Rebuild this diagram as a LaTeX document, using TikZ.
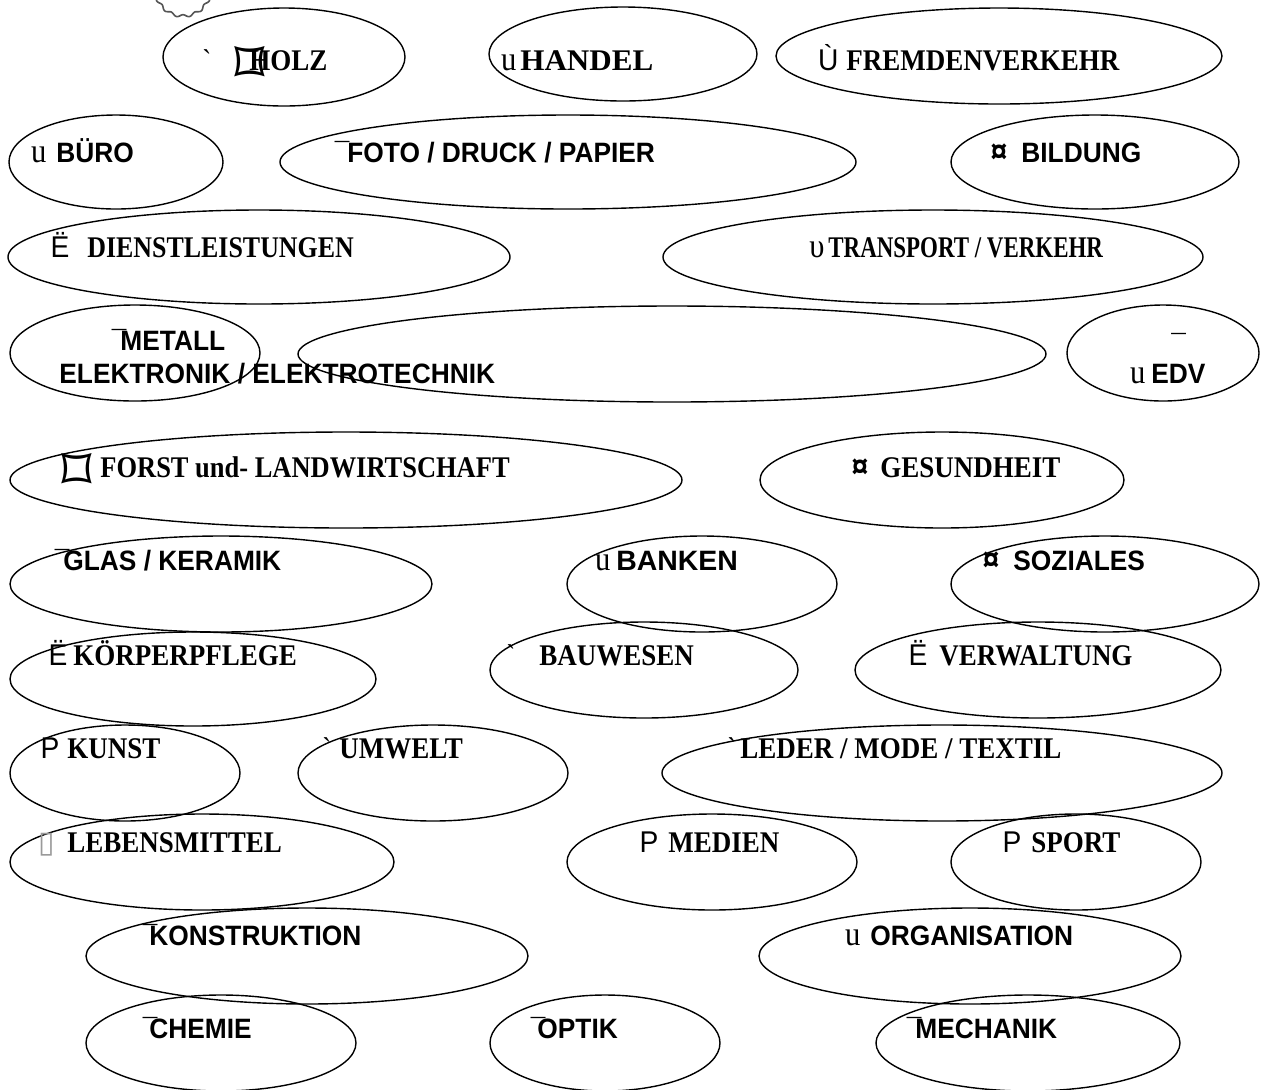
\documentclass[tikz,border=0pt]{standalone}
\usepackage{fontspec}
\usepackage{graphicx}
\usepackage{tikz}
\usetikzlibrary{shapes.geometric}
\newfontfamily\serifface[FakeStretch=0.9,Ligatures=TeXOff]{Liberation Serif}
\newfontfamily\sansface[FakeStretch=0.94]{Liberation Sans}
\newfontfamily\symface{DejaVu Sans}
\definecolor{gearcol}{HTML}{555555}
\definecolor{boxcol}{HTML}{9A9A9A}
\newcommand{\sgU}{{\mdseries\serifface\fontsize{17}{18}\selectfont u}}
\newcommand{\sgUps}{{\mdseries\serifface\fontsize{17}{18}\selectfont υ}}
\newcommand{\sgP}{{\mdseries\sansface P}}
\newcommand{\sgMac}{{\mdseries\sansface ¯}}
\newcommand{\sgCur}{{\bfseries\sansface\fontsize{16}{16}\selectfont ¤}}
\newcommand{\sgUml}{{\mdseries\sansface Ë}}
\newcommand{\sgUgr}{{\mdseries\sansface Ù}}
\newcommand{\sgGrave}{{\mdseries\serifface `}}
\newcommand{\sgBox}{\raisebox{-7pt}{\mdseries\symface\fontsize{30}{30}\selectfont ⌑}}
\newcommand{\sgMiss}{{\mdseries\symface\color{boxcol}▯}}
\newcommand{\sq}[2]{\scalebox{#1}[1]{#2}}
\tikzset{
  oval/.style={draw,ellipse,line width=0.7pt,inner sep=0pt},
  serifl/.style={font=\serifface\fontsize{15}{18}\selectfont\bfseries,anchor=base west,inner sep=0pt},
  sansl/.style={font=\sansface\fontsize{14}{17}\selectfont\bfseries,anchor=base west,inner sep=0pt}
}
\begin{document}
\begin{tikzpicture}[x=0.5pt,y=-0.5pt]
  \useasboundingbox (0,0) rectangle (1266,1089);
  \clip (0,0) rectangle (1266,1089);
  \draw[gearcol,line width=0.8pt,shift={(183,-12)}] plot[domain=0:358,samples=180,smooth cycle] (\x:{28+1.3*cos(14*\x)});
  % ovals
  \node[oval,minimum width=121pt,minimum height=49pt] (holz) at (284,57) {};
  \node[oval,minimum width=134pt,minimum height=47pt] (handel) at (623,54) {};
  \node[oval,minimum width=223pt,minimum height=48pt] (fremd) at (999,56) {};
  \node[oval,minimum width=107pt,minimum height=47pt] (buero) at (116,162) {};
  \node[oval,minimum width=288pt,minimum height=47pt] (foto) at (568,162) {};
  \node[oval,minimum width=144pt,minimum height=47pt] (bildung) at (1095,162) {};
  \node[oval,minimum width=251pt,minimum height=47pt] (dienst) at (259,257) {};
  \node[oval,minimum width=270pt,minimum height=47pt] (transport) at (933,257) {};
  \node[oval,minimum width=125pt,minimum height=48pt] (metall) at (135,353) {};
  \node[oval,minimum width=374pt,minimum height=48pt] (wide) at (672,354) {};
  \node[oval,minimum width=96pt,minimum height=48pt] (edv) at (1163,353) {};
  \node[oval,minimum width=336pt,minimum height=48pt] (forst) at (346,480) {};
  \node[oval,minimum width=182pt,minimum height=48pt] (gesund) at (942,480) {};
  \node[oval,minimum width=211pt,minimum height=48pt] (glas) at (221,584) {};
  \node[oval,minimum width=135pt,minimum height=48pt] (banken) at (702,584) {};
  \node[oval,minimum width=154pt,minimum height=48pt] (sozial) at (1105,584) {};
  \node[oval,minimum width=183pt,minimum height=47pt] (koerper) at (193,679) {};
  \node[oval,minimum width=154pt,minimum height=48pt] (bau) at (644,670) {};
  \node[oval,minimum width=183pt,minimum height=48pt] (verwalt) at (1038,670) {};
  \node[oval,minimum width=115pt,minimum height=48pt] (kunst) at (125,773) {};
  \node[oval,minimum width=135pt,minimum height=48pt] (umwelt) at (433,773) {};
  \node[oval,minimum width=280pt,minimum height=48pt] (leder) at (942,773) {};
  \node[oval,minimum width=192pt,minimum height=48pt] (lebens) at (202,862) {};
  \node[oval,minimum width=145pt,minimum height=48pt] (medien) at (712,862) {};
  \node[oval,minimum width=125pt,minimum height=48pt] (sport) at (1076,862) {};
  \node[oval,minimum width=221pt,minimum height=48pt] (konstr) at (307,956) {};
  \node[oval,minimum width=211pt,minimum height=48pt] (orga) at (970,956) {};
  \node[oval,minimum width=135pt,minimum height=48pt] (chemie) at (221,1043) {};
  \node[oval,minimum width=115pt,minimum height=48pt] (optik) at (605,1043) {};
  \node[oval,minimum width=152pt,minimum height=48pt] (mech) at (1028,1043) {};
  % labels
  \node[serifl] (holz-t) at (249,70) {\llap{\sgGrave\hspace{19pt}}\llap{\sgBox\hspace{-8pt}}HOLZ};
  \node[serifl] (handel-t) at (520,70) {\llap{\sgU\hspace{2pt}}\sq{1.15}{HANDEL}};
  \node[serifl] (fremd-t) at (846,70) {\llap{\sgUgr\hspace{4pt}}FREMDENVERKEHR};
  \node[sansl] (buero-t) at (56,162) {\llap{\sgU\hspace{5pt}}BÜRO};
  \node[sansl] (foto-t) at (347,162) {\llap{\sgMac\hspace{-1pt}}FOTO / DRUCK / PAPIER};
  \node[sansl] (bildung-t) at (1021,162) {\llap{\sgCur\hspace{7pt}}BILDUNG};
  \node[serifl] (dienst-t) at (87,257) {\llap{\sgUml\hspace{9pt}}\sq{0.96}{DIENSTLEISTUNGEN}};
  \node[serifl] (transport-t) at (828,257) {\llap{\sgUps\hspace{2pt}}\sq{0.85}{TRANSPORT / VERKEHR}};
  \node[sansl] (metall-t) at (120,350) {\llap{\sgMac\hspace{-3pt}}METALL};
  \node[sansl] (elektro-t) at (59,383) {ELEKTRONIK / ELEKTROTECHNIK};
  \node[sansl] (edv-m) at (1171,354) {\sgMac};
  \node[sansl] (edv-t) at (1151,383) {\llap{\sgU\hspace{3pt}}EDV};
  \node[serifl] (forst-t) at (100,477) {\llap{\sgBox\hspace{4pt}}\sq{0.98}{FORST und- LANDWIRTSCHAFT}};
  \node[serifl] (gesund-t) at (880,477) {\llap{\sgCur\hspace{6pt}}GESUNDHEIT};
  \node[sansl] (glas-t) at (63,570) {\llap{\sgMac\hspace{-3pt}}GLAS / KERAMIK};
  \node[sansl] (banken-t) at (616,570) {\llap{\sgU\hspace{3pt}}\sq{1.08}{BANKEN}};
  \node[sansl] (sozial-t) at (1013,570) {\llap{\sgCur\hspace{7pt}}SOZIALES};
  \node[serifl] (koerper-t) at (73,665) {\llap{\sgUml\hspace{3pt}}KÖRPERPFLEGE};
  \node[serifl] (bau-t) at (539,665) {\llap{\sgGrave\hspace{12pt}}BAUWESEN};
  \node[serifl] (verwalt-t) at (939,665) {\llap{\sgUml\hspace{6pt}}VERWALTUNG};
  \node[serifl] (kunst-t) at (67,758) {\llap{\sgP\hspace{4pt}}KUNST};
  \node[serifl] (umwelt-t) at (339,758) {\llap{\sgGrave\hspace{4pt}}UMWELT};
  \node[serifl] (leder-t) at (740,758) {\llap{\sgGrave\hspace{2pt}}LEDER / MODE / TEXTIL};
  \node[serifl] (lebens-t) at (67,852) {\llap{\sgMiss\hspace{6pt}}LEBENSMITTEL};
  \node[serifl] (medien-t) at (668,852) {\llap{\sgP\hspace{5pt}}MEDIEN};
  \node[serifl] (sport-t) at (1031,852) {\llap{\sgP\hspace{5pt}}SPORT};
  \node[sansl] (konstr-t) at (149,945) {\llap{\sgMac\hspace{-4pt}}KONSTRUKTION};
  \node[sansl] (orga-t) at (870,945) {\llap{\sgU\hspace{5pt}}ORGANISATION};
  \node[sansl] (chemie-t) at (149,1038) {\llap{\sgMac\hspace{-4pt}}CHEMIE};
  \node[sansl] (optik-t) at (537,1038) {\llap{\sgMac\hspace{-4pt}}OPTIK};
  \node[sansl] (mech-t) at (915,1038) {\llap{\sgMac\hspace{-3pt}}MECHANIK};
\end{tikzpicture}
\end{document}
